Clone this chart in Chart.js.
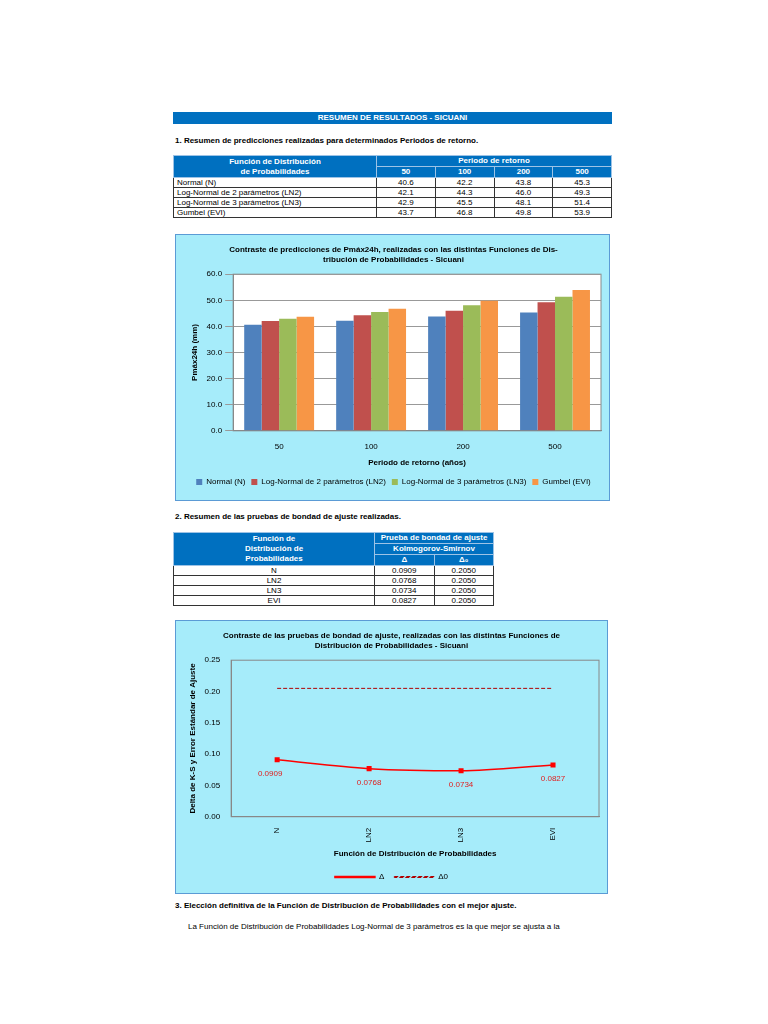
<!DOCTYPE html>
<html>
<head>
<meta charset="utf-8">
<script src="https://cdn.jsdelivr.net/npm/chart.js@4.4.0/dist/chart.umd.min.js"></script>
<style>
  body { margin: 0; width: 768px; height: 1024px; background: #fff; font-family: "Liberation Sans", Arial, sans-serif; position: relative; }
  .abs { position: absolute; }
  .bar { left: 173px; top: 112px; width: 439px; height: 12px; background: #0070c0; color: #fff; font-size: 8px; font-weight: bold; text-align: center; line-height: 12px; }
  .sec { font-size: 8px; font-weight: bold; left: 175px; }
  table { border-collapse: collapse; font-size: 8px; }
  th { background: #0070c0; color: #fff; font-weight: bold; border: 1px solid #9dc3e6; padding: 0; line-height: 10px; }
  td { border: 1px solid #333; padding: 0 3px; line-height: 9px; text-align: center; }
  td.l { text-align: left; }
  .box { background: #a6ecfa; border: 1px solid #5b9bd5; }
</style>
</head>
<body>
<div class="abs bar">RESUMEN DE RESULTADOS - SICUANI</div>
<div class="abs sec" style="top:136px">1. Resumen de predicciones realizadas para determinados Periodos de retorno.</div>
<table class="abs" id="t1" style="left:173px;top:155px;width:439px"></table>

<div class="abs box" style="left:175px;top:234px;width:433px;height:265px">
  <canvas id="c1" width="433" height="265"></canvas>
</div>

<div class="abs sec" style="top:512px">2. Resumen de las pruebas de bondad de ajuste realizadas.</div>
<table class="abs" id="t2" style="left:173px;top:532px;width:321px"></table>

<div class="abs box" style="left:175px;top:620px;width:431px;height:272px">
  <canvas id="c2" width="431" height="272"></canvas>
</div>

<div class="abs sec" style="top:901px">3. Elección definitiva de la Función de Distribución de Probabilidades con el mejor ajuste.</div>
<div class="abs" style="left:188px;top:922px;font-size:8px">La Función de Distribución de Probabilidades Log-Normal de 3 parámetros es la que mejor se ajusta a la</div>

<script>
const periods = ["50", "100", "200", "500"];
const distNames = ["Normal (N)", "Log-Normal de 2 parámetros (LN2)", "Log-Normal de 3 parámetros (LN3)", "Gumbel (EVI)"];
const normalVals = [40.6, 42.2, 43.8, 45.3];
const ln2Vals = [42.1, 44.3, 46.0, 49.3];
const ln3Vals = [42.9, 45.5, 48.1, 51.4];
const gumbelVals = [43.7, 46.8, 49.8, 53.9];

const distCodes = ["N", "LN2", "LN3", "EVI"];
const deltaVals = [0.0909, 0.0768, 0.0734, 0.0827];
const delta0Vals = [0.2050, 0.2050, 0.2050, 0.2050];

// tables
const rows1 = [normalVals, ln2Vals, ln3Vals, gumbelVals];
let h1 = '<tr><th rowspan="2" style="width:202px">Función de Distribución<br>de Probabilidades</th><th colspan="4">Periodo de retorno</th></tr><tr>';
periods.forEach(p => h1 += '<th>' + p + '</th>');
h1 += '</tr>';
rows1.forEach((r, i) => {
  h1 += '<tr><td class="l">' + distNames[i] + '</td>';
  r.forEach(v => h1 += '<td>' + v.toFixed(1) + '</td>');
  h1 += '</tr>';
});
document.getElementById("t1").innerHTML = h1;

let h2 = '<tr><th rowspan="3" style="width:200px">Función de<br>Distribución de<br>Probabilidades</th><th colspan="2">Prueba de bondad de ajuste</th></tr>' +
  '<tr><th colspan="2">Kolmogorov-Smirnov</th></tr><tr><th>Δ</th><th>Δ₀</th></tr>';
distCodes.forEach((c, i) => {
  h2 += '<tr><td>' + c + '</td><td>' + deltaVals[i].toFixed(4) + '</td><td>' + delta0Vals[i].toFixed(4) + '</td></tr>';
});
document.getElementById("t2").innerHTML = h2;

Chart.defaults.font.family = '"Liberation Sans", Arial, sans-serif';
Chart.defaults.font.size = 8;
Chart.defaults.color = "#000";

const plotBg = {
  id: "plotBg",
  beforeDraw(chart, args, opts) {
    const a = chart.chartArea, ctx = chart.ctx;
    ctx.save();
    ctx.fillStyle = opts.color;
    ctx.fillRect(a.left, a.top, a.right - a.left, a.bottom - a.top);
    ctx.strokeStyle = "#888";
    ctx.strokeRect(a.left, a.top, a.right - a.left, a.bottom - a.top);
    ctx.restore();
  }
};

new Chart(document.getElementById("c1"), {
  type: "bar",
  plugins: [plotBg],
  data: {
    labels: periods,
    datasets: [
      { label: "Normal (N)", data: normalVals, backgroundColor: "#4f81bd" },
      { label: "Log-Normal de 2 parámetros (LN2)", data: ln2Vals, backgroundColor: "#c0504d" },
      { label: "Log-Normal de 3 parámetros (LN3)", data: ln3Vals, backgroundColor: "#9bbb59" },
      { label: "Gumbel (EVI)", data: gumbelVals, backgroundColor: "#f79646" },
    ],
  },
  options: {
    responsive: false,
    animation: false,
    layout: { padding: { left: 10, right: 8, top: 0, bottom: 4 } },
    datasets: { bar: { categoryPercentage: 0.76, barPercentage: 1 } },
    scales: {
      y: {
        min: 0, max: 60,
        ticks: { stepSize: 10, callback: v => v.toFixed(1) },
        grid: { color: "#999" },
        border: { color: "#888" },
        title: { display: true, text: "Pmáx24h (mm)", font: { weight: "bold" } },
      },
      x: {
        grid: { display: false },
        border: { color: "#888" },
        title: { display: true, text: "Periodo de retorno (años)", font: { weight: "bold" } },
      },
    },
    plugins: {
      plotBg: { color: "#ffffff" },
      title: {
        display: true,
        text: ["Contraste de predicciones de Pmáx24h, realizadas con las distintas Funciones de Dis-", "tribución de Probabilidades - Sicuani"],
        font: { weight: "bold", size: 8 },
        padding: { top: 10, bottom: 10 },
      },
      legend: {
        position: "bottom",
        labels: { boxWidth: 6, boxHeight: 6, padding: 6 },
      },
      tooltip: { enabled: false },
    },
  },
});

const pointLabels = {
  id: "pointLabels",
  afterDatasetsDraw(chart) {
    const ctx = chart.ctx;
    const meta = chart.getDatasetMeta(0);
    ctx.save();
    ctx.fillStyle = "#e02020";
    ctx.font = '8px "Liberation Sans", Arial, sans-serif';
    ctx.textAlign = "center";
    meta.data.forEach((pt, i) => {
      ctx.fillText(deltaVals[i].toFixed(4), pt.x - (i === 0 ? 7 : 0), pt.y + 14);
    });
    ctx.restore();
  }
};

new Chart(document.getElementById("c2"), {
  type: "line",
  plugins: [plotBg, pointLabels],
  data: {
    labels: distCodes,
    datasets: [
      { label: "Δ", data: deltaVals, borderColor: "#ff0000", backgroundColor: "#ff0000", borderWidth: 1.5,
        pointStyle: "rect", pointRadius: 2.5, cubicInterpolationMode: "monotone" },
      { label: "Δ0", data: delta0Vals, borderColor: "#b00000", borderWidth: 1, borderDash: [4, 2], pointRadius: 0 },
    ],
  },
  options: {
    responsive: false,
    animation: false,
    layout: { padding: { left: 8, right: 8, top: 0, bottom: 2 } },
    scales: {
      y: {
        min: 0, max: 0.25,
        ticks: { stepSize: 0.05, callback: v => v.toFixed(2) },
        grid: { display: false },
        border: { color: "#888" },
        title: { display: true, text: "Delta de K-S y Error Estándar de Ajuste", font: { weight: "bold" } },
      },
      x: {
        offset: true,
        grid: { display: false, drawTicks: true },
        border: { color: "#888" },
        ticks: { maxRotation: 90, minRotation: 90 },
        title: { display: true, text: "Función de Distribución de Probabilidades", font: { weight: "bold" } },
      },
    },
    plugins: {
      plotBg: { color: "rgba(0,0,0,0)" },
      title: {
        display: true,
        text: ["Contraste de las pruebas de bondad de ajuste, realizadas con las distintas Funciones de", "Distribución de Probabilidades - Sicuani"],
        font: { weight: "bold", size: 8 },
        padding: { top: 10, bottom: 10 },
      },
      legend: {
        position: "bottom",
        labels: { boxWidth: 40, boxHeight: 1, padding: 10 },
      },
      tooltip: { enabled: false },
    },
  },
});
</script>
</body>
</html>
